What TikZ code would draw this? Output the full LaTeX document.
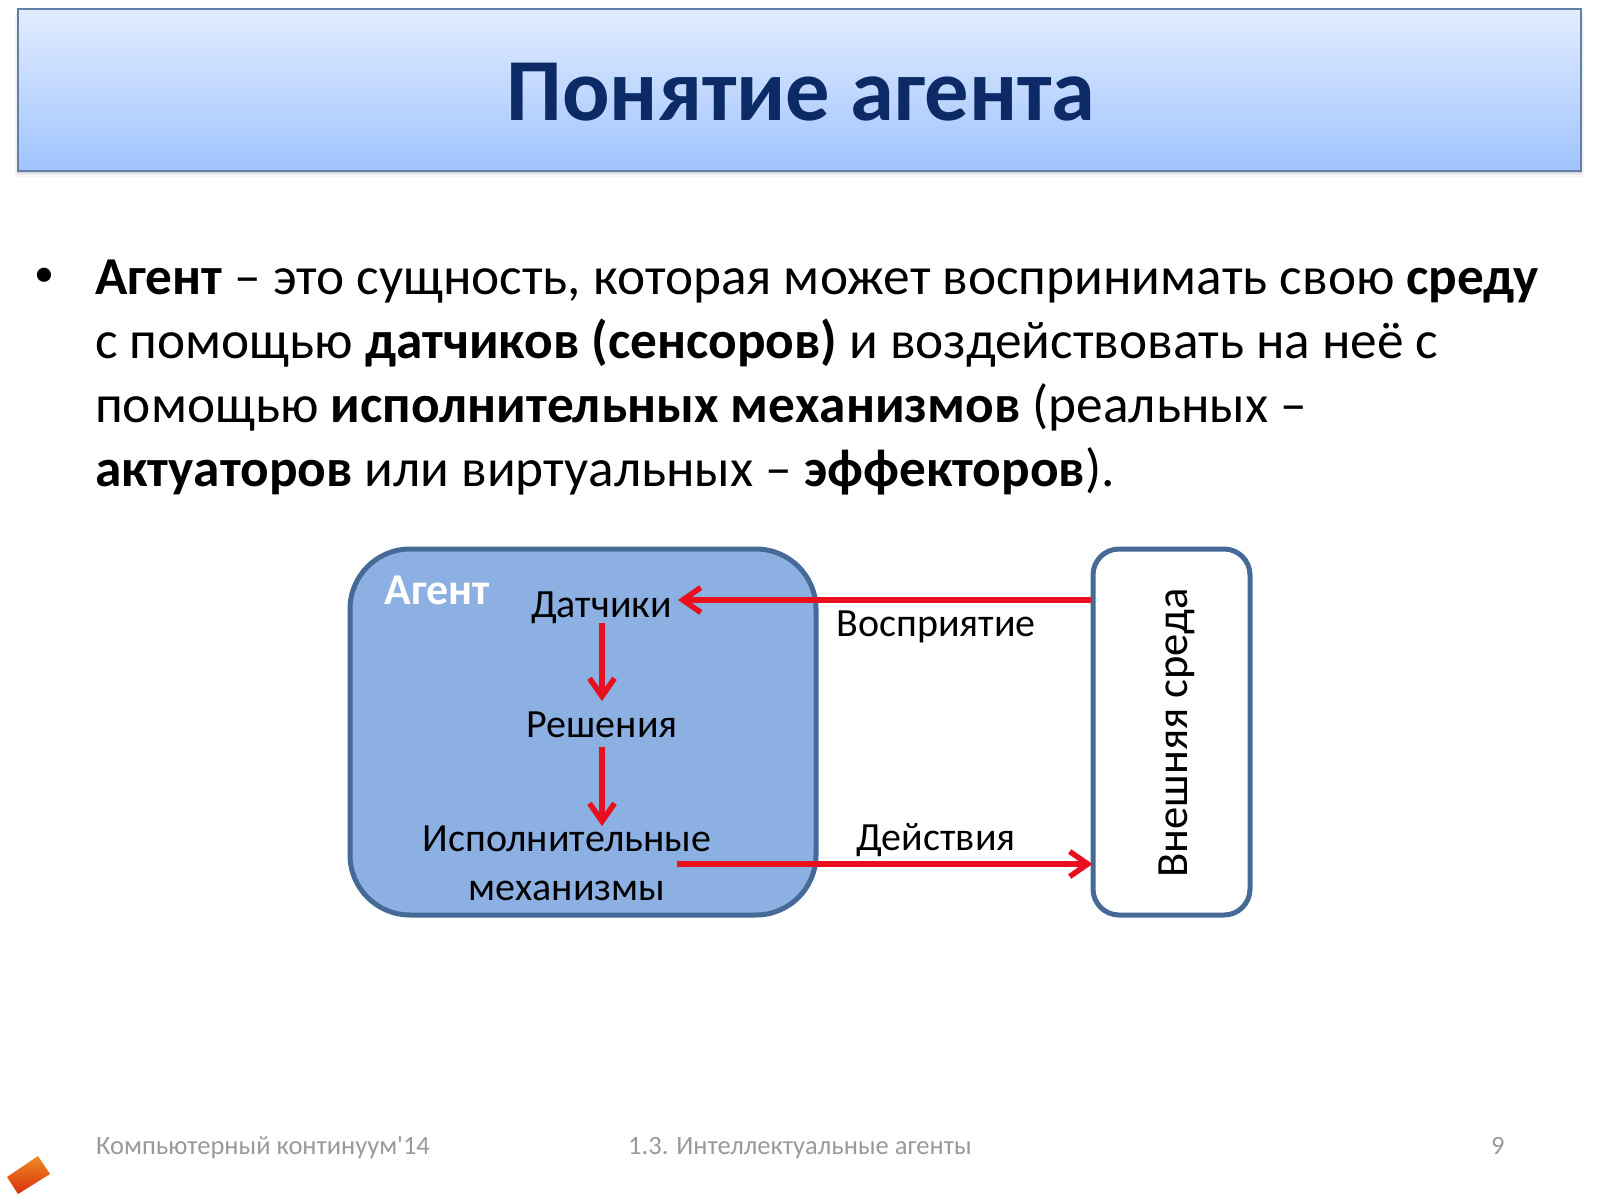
\documentclass[tikz,border=0pt]{standalone}
\usepackage{fontspec}
\setmainfont{Carlito}
\newfontfamily\footfont{Carlito}
\usetikzlibrary{arrows.meta,calc}
\definecolor{titleink}{HTML}{0B2A66}
\definecolor{boxline}{HTML}{466A98}
\definecolor{boxfill}{HTML}{8DB0E2}
\definecolor{redline}{HTML}{E8101E}
\definecolor{footgray}{HTML}{9A9A9A}
\definecolor{titlegradtop}{HTML}{E2ECFF}
\definecolor{titlegradbot}{HTML}{A0C4FF}
\definecolor{logohi}{HTML}{F08A20}
\definecolor{logolo}{HTML}{D8300F}
\newcommand{\px}[1]{\fontsize{#1pt}{#1pt}\selectfont}
\tikzset{
  x=1pt,y=-1pt,
  bodyline/.style={anchor=base west,inner sep=0pt,font=\px{53.3}},
  diaglabel/.style={inner sep=0pt,anchor=base,font=\px{40}},
  footer/.style={anchor=base west,inner sep=0pt,text=footgray,font=\footfont\px{26.5}},
  redarrow/.style={draw=redline,line width=5.5pt,-{Straight Barb[length=18pt,width=25pt,line width=5.5pt]}},
  roundbox/.style={draw=boxline,line width=5pt,inner sep=0pt},
}
\begin{document}
\begin{tikzpicture}
\useasboundingbox (0,0) rectangle (1600,1200);
\fill[white] (0,0) rectangle (1600,1200);
% title bar shadow
\foreach \o/\c in {6/3,4/6,2.5/10,1.5/16}{
  \fill[black!\c] (18-\o/2,9+\o) rectangle (1581+\o/2,171+\o);
}
\shade[top color=titlegradtop,bottom color=titlegradbot] (18,9) rectangle (1581,171);
\draw[draw=boxline!85,line width=2.5pt] (18,9) rectangle (1581,171);
\node[inner sep=0pt,anchor=base,text=titleink,font=\px{88.5}\bfseries] (title) at (801,120) {Понятие агента};
% body
\node[inner sep=0pt,font=\px{40}] (bullet) at (44,277) {•};
\node[bodyline] (l1) at (95,294) {\textbf{Агент} – это сущность, которая может воспринимать свою \textbf{среду}};
\node[bodyline] (l2) at (95,358) {с помощью \textbf{датчиков (сенсоров)} и воздействовать на неё с};
\node[bodyline] (l3) at (95,422) {помощью \textbf{исполнительных механизмов} (реальных –};
\node[bodyline] (l4) at (95,486) {\textbf{актуаторов} или виртуальных – \textbf{эффекторов}).};
% diagram
\node[roundbox,fill=boxfill,rounded corners=60pt,minimum width=466pt,minimum height=366pt] (agent) at (583,732) {};
\node[roundbox,fill=white,rounded corners=26pt,minimum width=157pt,minimum height=366pt] (env) at (1171.5,732) {};
\node[inner sep=0pt,anchor=base,text=white,font=\px{44}\bfseries] (aglabel) at (437,604) {Агент};
\node[diaglabel] (sens) at (601.5,617) {Датчики};
\node[diaglabel] (dec) at (602,737) {Решения};
\node[diaglabel] (act1) at (567,851) {Исполнительные};
\node[diaglabel] (act2) at (567,900) {механизмы};
\node[diaglabel] (perc) at (936,636) {Восприятие};
\node[diaglabel] (acts) at (936,850) {Действия};
\node[inner sep=0pt,anchor=base,rotate=90,font=\px{44.6}] (envlab) at (1187,733) {Внешняя среда};
\coordinate (percend) at (678,600);
\coordinate (actstart) at (677,864);
\coordinate (spine) at (602,0);
\draw[redarrow] (env.west |- percend) -- (percend);
\draw[redarrow,shorten >=-2pt] (actstart) -- (env.west |- actstart);
\draw[redarrow,shorten >=10pt] (spine |- sens.south) -- (spine |- dec.north);
\draw[redarrow,shorten <=10pt,shorten >=-1pt] (spine |- dec.south) -- (spine |- act1.north);
% footer
\node[footer] (f1) at (96,1154) {Компьютерный континуум'14};
\node[footer] (f2) at (628,1154) {1.3. Интеллектуальные агенты};
\node[footer] (f3) at (1491,1154) {9};
% logo
\shade[top color=logohi,bottom color=logolo] (7,1177) -- (38,1156) -- (50,1174) -- (18,1194) -- cycle;
\end{tikzpicture}
\end{document}
